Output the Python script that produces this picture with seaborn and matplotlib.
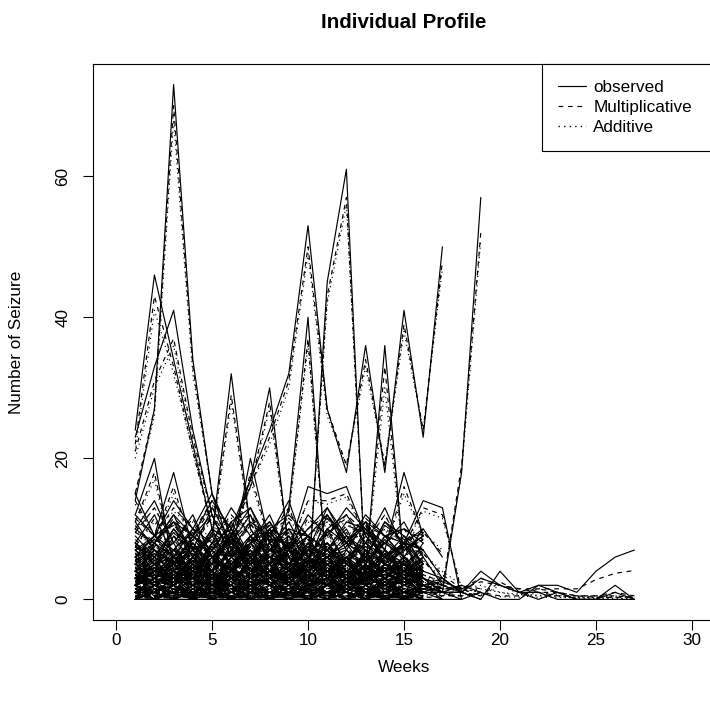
import matplotlib
matplotlib.use("Agg")
import matplotlib.pyplot as plt
import seaborn as sns
import pandas as pd
from matplotlib.lines import Line2D

# ---------------- data ----------------
model_names = ["observed", "Multiplicative", "Additive"]
x_ticks = [0, 5, 10, 15, 20, 25, 30]
y_ticks = [0, 20, 40, 60]

# prominent individual profiles (observed, multiplicative fit, additive fit)
p1_obs = [14, 27, 73, 34, 15, 9, 6, 10, 4, 7, 5, 3, 6, 4, 2, 3]
p1_mul = [15, 27, 70, 33, 15, 9, 6, 9.5, 4.5, 7, 5, 3.5, 5.5, 4, 2.5, 3]
p1_add = [15, 26, 68, 32, 15, 9, 6.5, 9, 5, 6.5, 5, 3.5, 5.5, 4, 2.5, 3]

p2_obs = [24, 46, 34, 22, 10, 8, 12, 5, 3, 8, 6, 4, 2, 5, 3, 2]
p2_mul = [22, 43, 33, 21, 10, 8, 11, 5, 3.5, 7.5, 6, 4, 2.5, 5, 3, 2.5]
p2_add = [21, 41, 32, 21, 10.5, 8, 11, 5.5, 3.5, 7.5, 6, 4, 2.5, 4.5, 3, 2.5]

p3_obs = [23, 33, 41, 24, 12, 6, 9, 4, 7, 3, 10, 5, 3, 6, 2, 4]
p3_mul = [21, 31, 37, 23, 12, 6, 9, 4.5, 7, 3.5, 9.5, 5, 3.5, 5.5, 2.5, 4]
p3_add = [20, 30, 36, 22, 12, 6.5, 8.5, 4.5, 6.5, 3.5, 9, 5, 3.5, 5.5, 2.5, 4]

p4_obs = [5, 8, 11, 9, 14, 10, 17, 24, 32, 53, 27, 18, 36, 18, 41, 23, 50]
p4_mul = [5.5, 8, 11, 9, 13, 10, 16, 23, 31, 50, 27, 19, 34, 19, 39, 24, 48]
p4_add = [5.5, 8.5, 10.5, 9.5, 13, 10, 16, 22, 30, 49, 26, 19, 33, 19, 38, 24, 47]

p5_obs = [2, 4, 3, 6, 5, 9, 4, 6, 8, 1, 45, 61, 2, 5, 3, 4]
p5_mul = [2.5, 4, 3, 5.5, 5, 8.5, 4, 6, 7.5, 2, 43, 57, 3, 5, 3, 4]
p5_add = [2.5, 4, 3.5, 5.5, 5, 8, 4.5, 6, 7.5, 2.5, 42, 56, 3.5, 5, 3.5, 4]

p6_obs = [4, 7, 5, 9, 6, 3, 8, 5, 13, 40, 2, 6, 4, 3, 5, 2]
p6_mul = [4, 6.5, 5, 8.5, 6, 3.5, 7.5, 5, 12.5, 37, 2.5, 6, 4, 3.5, 5, 2.5]
p6_add = [4.5, 6.5, 5, 8.5, 6, 3.5, 7.5, 5, 12, 36, 3, 5.5, 4, 3.5, 4.5, 2.5]

p7_obs = [2, 5, 3, 6, 4, 7, 3, 5, 2, 6, 4, 3, 4, 36, 5, 2]
p7_mul = [2, 5, 3, 5.5, 4, 6.5, 3.5, 5, 2.5, 5.5, 4, 3, 4.5, 33, 5, 2]
p7_add = [2.5, 5, 3.5, 5.5, 4, 6.5, 3.5, 5, 2.5, 5.5, 4, 3.5, 4.5, 30, 5, 2.5]

p8_obs = [1, 3, 2, 5, 2, 4, 6, 3, 2, 5, 3, 4, 2, 3, 6, 2, 1, 18, 57]
p8_mul = [1.5, 3, 2, 4.5, 2.5, 4, 5.5, 3, 2.5, 4.5, 3, 4, 2.5, 3, 5.5, 2.5, 1.5, 19, 52]
p8_add = [1.5, 3, 2.5, 4.5, 2.5, 4, 5.5, 3.5, 2.5, 4.5, 3.5, 4, 2.5, 3.5, 5.5, 2.5, 2, 18, 51]

# long-follow-up profiles (27 weeks) and a few 18-19 week ones
g_obs = [2, 4, 3, 5, 2, 6, 3, 4, 5, 2, 3, 4, 2, 5, 3, 2, 1, 1, 4, 2, 1, 2, 2, 1, 4, 6, 7]
g_mul = [2, 4, 3, 4.5, 2.5, 5.5, 3, 4, 4.5, 2.5, 3, 4, 2.5, 4.5, 3, 2, 1.5, 1.5, 3, 2, 1.5, 1.5, 1.5, 1.5, 2.8, 3.7, 4.1]
g_add = [2.5, 4, 3, 4.5, 2.5, 5.5, 3, 4, 4.5, 2.5, 3, 4, 2.5, 4.5, 3, 2.5, 1.5, 1.5, 2, 1, 0.7, 0.5, 0.5, 0.3, 0.3, 0.3, 0.3]

h_obs = [1, 3, 0, 2, 1, 4, 2, 0, 3, 1, 2, 0, 1, 3, 0, 2, 1, 1, 0, 4, 1, 1, 0, 0, 0, 2, 0]
h_mul = [1, 2.5, 0.5, 2, 1, 3.5, 2, 0.5, 2.5, 1, 2, 0.5, 1, 2.5, 0.5, 1.5, 1, 1, 0.5, 2.5, 1, 1, 0.5, 0.5, 0.5, 1, 0.5]
h_add = [1.5, 2.5, 1, 2, 1.5, 3.5, 2, 1, 2.5, 1.5, 2, 1, 1.5, 2.5, 1, 1.5, 1, 1, 0.5, 2, 0.8, 0.6, 0.4, 0.3, 0.3, 0.5, 0.2]

i_obs = [0, 1, 2, 0, 1, 0, 2, 1, 0, 0, 1, 2, 0, 1, 0, 1, 0, 0, 1, 0, 0, 2, 1, 0, 0, 0, 0]
i_mul = [0.5, 1, 1.5, 0.5, 1, 0.5, 1.5, 1, 0.5, 0.5, 1, 1.5, 0.5, 1, 0.5, 1, 0.5, 0.5, 1, 0.5, 0.5, 1.5, 1, 0.5, 0.3, 0.3, 0.3]
i_add = [0.8, 1, 1.5, 0.8, 1, 0.8, 1.5, 1, 0.8, 0.8, 1, 1.5, 0.8, 1, 0.8, 1, 0.6, 0.5, 0.8, 0.4, 0.3, 1, 0.6, 0.2, 0.1, 0.1, 0.1]

j_obs = [3, 2, 4, 1, 3, 2, 5, 2, 1, 3, 2, 4, 1, 2, 3, 1, 2, 1, 3, 2, 1, 0, 1, 0, 0, 1, 0]
j_mul = [3, 2, 3.5, 1.5, 3, 2, 4.5, 2, 1.5, 3, 2, 3.5, 1.5, 2, 3, 1.5, 2, 1.5, 2.5, 2, 1.5, 1, 1, 0.5, 0.5, 0.5, 0.3]
j_add = [3, 2.5, 3.5, 1.5, 3, 2.5, 4.5, 2, 1.5, 3, 2, 3.5, 1.5, 2, 3, 1.5, 1.5, 1, 1.5, 1, 0.5, 0.3, 0.3, 0.2, 0.2, 0.2, 0.1]

k_obs = [4, 2, 5, 3, 1, 4, 2, 3, 5, 2, 4, 1, 3, 2, 4, 3, 1, 2, 1]
k_mul = [3.5, 2.5, 4.5, 3, 1.5, 3.5, 2, 3, 4.5, 2, 3.5, 1.5, 3, 2, 3.5, 3, 1.5, 2, 1.5]
k_add = [3.5, 2.5, 4.5, 3, 1.5, 3.5, 2.5, 3, 4.5, 2.5, 3.5, 1.5, 3, 2.5, 3.5, 3, 1.5, 1.5, 1]

m_obs = [1, 3, 2, 4, 2, 1, 3, 2, 1, 4, 2, 3, 1, 2, 3, 2, 3, 1]
m_mul = [1.5, 2.5, 2, 3.5, 2, 1.5, 2.5, 2, 1.5, 3.5, 2, 3, 1.5, 2, 2.5, 2, 2.5, 1.5]
m_add = [1.5, 2.5, 2, 3.5, 2, 1.5, 2.5, 2, 1.5, 3.5, 2, 2.5, 1.5, 2, 2.5, 2, 2, 1]

# medium-level profiles
mid_obs = [
    [12, 20, 4, 8, 5, 9, 3, 7, 6, 4, 8, 5, 3, 6, 4, 2],
    [6, 9, 18, 7, 4, 10, 6, 3, 8, 5, 7, 4, 6, 3, 5, 2],
    [8, 5, 10, 6, 9, 32, 10, 6, 4, 7, 5, 3, 6, 4, 8, 3],
    [3, 6, 4, 7, 5, 9, 17, 30, 7, 5, 8, 4, 6, 3, 5, 2],
    [5, 3, 7, 4, 8, 6, 20, 8, 5, 9, 4, 6, 3, 7, 4, 5],
    [4, 7, 5, 9, 6, 8, 5, 10, 7, 16, 15, 16, 9, 6, 8, 4],
    [2, 4, 6, 3, 8, 5, 7, 4, 9, 6, 10, 8, 11, 7, 18, 9],
    [3, 5, 2, 6, 4, 7, 3, 8, 5, 4, 6, 9, 7, 5, 8, 14, 13, 0],
    [10, 14, 8, 12, 6, 9, 13, 7, 10, 5, 12, 8, 6, 11, 9, 7],
    [15, 9, 11, 7, 13, 8, 6, 10, 12, 9, 7, 11, 10, 6, 8, 5],
    [2, 8, 12, 6, 10, 4, 8, 11, 7, 12, 9, 13, 10, 8, 6, 10],
    [8, 12, 6, 10, 15, 7, 11, 9, 14, 6, 10, 12, 8, 13, 7, 9],
]
mid_mul = [
    [11, 18, 5, 8, 5, 8.5, 3.5, 7, 6, 4, 7.5, 5, 3.5, 5.5, 4, 2.5],
    [6, 8.5, 16, 7, 4.5, 9.5, 6, 3.5, 7.5, 5, 6.5, 4, 5.5, 3.5, 5, 2.5],
    [7.5, 5.5, 9.5, 6, 9, 29, 10, 6, 4.5, 6.5, 5, 3.5, 6, 4, 7.5, 3],
    [3, 5.5, 4, 6.5, 5, 8.5, 16, 28, 7, 5, 7.5, 4, 5.5, 3.5, 4.5, 2.5],
    [5, 3.5, 6.5, 4, 7.5, 6, 18, 8, 5, 8.5, 4, 5.5, 3.5, 6.5, 4, 4.5],
    [4, 6.5, 5, 8.5, 6, 7.5, 5, 9.5, 7, 14, 14, 15, 9, 6, 7.5, 4],
    [2, 4, 5.5, 3.5, 7.5, 5, 6.5, 4, 8.5, 6, 9.5, 8, 10.5, 7, 16, 9],
    [3, 4.5, 2.5, 5.5, 4, 6.5, 3.5, 7.5, 5, 4, 6, 8.5, 7, 5, 7.5, 13, 12, 1],
    [9.5, 13, 8, 11.5, 6, 8.5, 12, 7, 9.5, 5.5, 11.5, 8, 6, 10.5, 8.5, 7],
    [14, 9, 10.5, 7, 12, 8, 6, 9.5, 11.5, 9, 7, 10.5, 9.5, 6, 7.5, 5],
    [2.5, 7.5, 11, 6, 9.5, 4.5, 7.5, 10.5, 7, 11.5, 9, 12, 9.5, 8, 6, 9.5],
    [7.5, 11.5, 6, 9.5, 14, 7, 10.5, 9, 13, 6, 9.5, 11.5, 8, 12, 7, 8.5],
]
mid_add = [
    [11, 17, 5.5, 7.5, 5.5, 8, 4, 6.5, 6, 4.5, 7.5, 5, 4, 5.5, 4, 2.5],
    [6, 8.5, 15, 7, 5, 9, 6, 4, 7.5, 5, 6.5, 4.5, 5.5, 3.5, 4.5, 2.5],
    [7.5, 5.5, 9, 6.5, 8.5, 28, 10, 6, 4.5, 6.5, 5, 3.5, 5.5, 4.5, 7, 3.5],
    [3.5, 5.5, 4.5, 6.5, 5, 8, 16, 27, 7, 5, 7.5, 4.5, 5.5, 3.5, 4.5, 2.5],
    [5, 3.5, 6.5, 4.5, 7.5, 6, 17, 8, 5.5, 8, 4.5, 5.5, 3.5, 6.5, 4, 4.5],
    [4, 6.5, 5, 8.5, 6, 7.5, 5.5, 9.5, 7, 14, 13.5, 14.5, 9, 6, 7.5, 4.5],
    [2.5, 4, 5.5, 3.5, 7.5, 5, 6.5, 4.5, 8.5, 6, 9.5, 7.5, 10, 7, 15, 9],
    [3, 4.5, 2.5, 5.5, 4, 6.5, 3.5, 7.5, 5, 4.5, 6, 8.5, 6.5, 5, 7.5, 12.5, 11.5, 1.5],
    [9.5, 13, 8, 11, 6.5, 8.5, 12, 7, 9.5, 5.5, 11, 8, 6.5, 10, 8.5, 7],
    [13.5, 9, 10.5, 7.5, 12, 8, 6.5, 9.5, 11, 9, 7, 10.5, 9.5, 6.5, 7.5, 5.5],
    [3, 7.5, 11, 6, 9.5, 4.5, 7.5, 10, 7, 11, 9, 12, 9.5, 8, 6, 9.5],
    [7.5, 11, 6.5, 9.5, 13.5, 7, 10.5, 9, 13, 6.5, 9.5, 11, 8, 12, 7, 8.5],
]

# low-count profiles, group 1 (16 weeks)
low_obs = [
    [2, 0, 1, 3, 0, 2, 1, 0, 2, 1, 0, 3, 1, 0, 2, 1],
    [5, 3, 4, 2, 6, 3, 5, 2, 4, 3, 2, 5, 3, 4, 2, 3],
    [0, 1, 0, 0, 2, 0, 1, 0, 0, 1, 0, 0, 2, 0, 1, 0],
    [3, 6, 2, 4, 7, 3, 2, 5, 3, 6, 4, 2, 5, 3, 1, 4],
    [1, 2, 4, 1, 3, 2, 0, 3, 1, 2, 4, 1, 0, 2, 3, 1],
    [7, 4, 9, 5, 3, 8, 4, 6, 2, 5, 7, 3, 6, 4, 5, 2],
    [0, 0, 1, 0, 0, 0, 2, 0, 1, 0, 0, 1, 0, 0, 0, 1],
    [4, 2, 3, 5, 1, 4, 3, 2, 6, 1, 3, 4, 2, 5, 3, 2],
    [2, 5, 1, 3, 4, 2, 6, 3, 1, 4, 2, 3, 5, 1, 2, 4],
    [9, 6, 4, 8, 5, 11, 6, 3, 7, 9, 4, 6, 8, 5, 3, 6],
    [1, 0, 2, 1, 1, 0, 3, 1, 0, 2, 1, 1, 0, 3, 1, 0],
    [6, 8, 5, 3, 7, 4, 9, 6, 5, 8, 3, 7, 4, 6, 9, 5],
    [3, 1, 2, 4, 2, 1, 3, 5, 2, 3, 1, 2, 4, 1, 3, 2],
    [0, 2, 0, 1, 0, 3, 0, 1, 2, 0, 1, 0, 1, 2, 0, 0],
    [5, 7, 3, 6, 2, 5, 8, 4, 3, 6, 5, 2, 7, 3, 4, 6],
    [2, 3, 5, 2, 4, 1, 2, 4, 3, 1, 5, 3, 2, 1, 4, 2],
    [8, 5, 7, 10, 6, 4, 9, 7, 11, 6, 8, 5, 10, 7, 4, 8],
    [1, 1, 0, 2, 1, 0, 1, 2, 0, 1, 1, 3, 0, 1, 2, 1],
    [4, 6, 8, 3, 5, 9, 4, 7, 5, 3, 6, 8, 4, 9, 6, 3],
    [0, 1, 3, 0, 1, 2, 0, 0, 1, 3, 0, 2, 1, 0, 1, 2],
    [3, 2, 1, 4, 3, 5, 2, 1, 3, 4, 2, 1, 3, 2, 5, 1],
    [11, 7, 5, 9, 12, 6, 8, 10, 5, 7, 13, 9, 6, 11, 8, 7],
    [2, 4, 3, 1, 2, 3, 5, 2, 4, 2, 3, 6, 2, 3, 1, 4],
    [6, 3, 5, 7, 4, 2, 6, 8, 3, 5, 6, 4, 3, 7, 5, 4],
    [1, 3, 2, 0, 4, 1, 2, 3, 1, 0, 2, 4, 1, 3, 0, 2],
    [0, 0, 0, 1, 0, 0, 0, 0, 1, 0, 0, 0, 0, 1, 0, 0],
    [4, 1, 6, 2, 3, 5, 1, 4, 2, 6, 3, 1, 4, 2, 3, 5],
    [7, 9, 6, 4, 8, 10, 5, 7, 9, 4, 6, 8, 11, 5, 7, 9],
    [2, 1, 3, 2, 0, 1, 4, 2, 1, 3, 2, 0, 1, 2, 3, 1],
    [5, 4, 2, 6, 3, 4, 7, 3, 5, 2, 4, 6, 3, 5, 4, 2],
]
low_mul = [
    [2, 0.5, 1, 2.5, 0.5, 2, 1, 0.5, 2, 1, 0.5, 2.5, 1, 0.5, 1.5, 1],
    [4.5, 3, 4, 2.5, 5.5, 3, 4.5, 2.5, 4, 3, 2.5, 4.5, 3, 4, 2.5, 3],
    [0.5, 1, 0.5, 0.5, 1.5, 0.5, 1, 0.5, 0.5, 1, 0.5, 0.5, 1.5, 0.5, 1, 0.5],
    [3, 5.5, 2.5, 4, 6.5, 3, 2.5, 4.5, 3, 5.5, 4, 2.5, 4.5, 3, 1.5, 3.5],
    [1, 2, 3.5, 1.5, 3, 2, 0.5, 2.5, 1, 2, 3.5, 1, 0.5, 2, 2.5, 1],
    [6.5, 4, 8.5, 5, 3.5, 7.5, 4, 5.5, 2.5, 5, 6.5, 3.5, 5.5, 4, 4.5, 2.5],
    [0.3, 0.3, 0.8, 0.3, 0.3, 0.3, 1.5, 0.3, 0.8, 0.3, 0.3, 0.8, 0.3, 0.3, 0.3, 0.8],
    [3.5, 2.5, 3, 4.5, 1.5, 4, 3, 2.5, 5.5, 1.5, 3, 3.5, 2.5, 4.5, 3, 2],
    [2, 4.5, 1.5, 3, 3.5, 2, 5.5, 3, 1.5, 3.5, 2, 3, 4.5, 1.5, 2, 3.5],
    [8.5, 6, 4.5, 7.5, 5, 10, 6, 3.5, 6.5, 8.5, 4.5, 6, 7.5, 5, 3.5, 5.5],
    [1, 0.5, 1.5, 1, 1, 0.5, 2.5, 1, 0.5, 1.5, 1, 1, 0.5, 2.5, 1, 0.5],
    [5.5, 7.5, 5, 3.5, 6.5, 4, 8.5, 6, 5, 7.5, 3.5, 6.5, 4, 6, 8.5, 5],
    [3, 1.5, 2, 3.5, 2, 1.5, 3, 4.5, 2, 3, 1.5, 2, 3.5, 1.5, 3, 2],
    [0.5, 1.5, 0.5, 1, 0.5, 2.5, 0.5, 1, 1.5, 0.5, 1, 0.5, 1, 1.5, 0.5, 0.5],
    [5, 6.5, 3.5, 5.5, 2.5, 5, 7.5, 4, 3.5, 5.5, 5, 2.5, 6.5, 3.5, 4, 5.5],
    [2, 3, 4.5, 2, 3.5, 1.5, 2, 3.5, 3, 1.5, 4.5, 3, 2, 1.5, 3.5, 2],
    [7.5, 5, 7, 9.5, 6, 4.5, 8.5, 7, 10, 6, 7.5, 5, 9.5, 7, 4.5, 7.5],
    [1, 1, 0.5, 1.5, 1, 0.5, 1, 1.5, 0.5, 1, 1, 2.5, 0.5, 1, 1.5, 1],
    [4, 5.5, 7.5, 3.5, 5, 8.5, 4, 6.5, 5, 3.5, 5.5, 7.5, 4, 8.5, 5.5, 3.5],
    [0.5, 1, 2.5, 0.5, 1, 1.5, 0.5, 0.5, 1, 2.5, 0.5, 1.5, 1, 0.5, 1, 1.5],
    [3, 2, 1.5, 3.5, 3, 4.5, 2, 1.5, 3, 3.5, 2, 1.5, 3, 2, 4.5, 1.5],
    [10.5, 7, 5.5, 8.5, 11.5, 6, 8, 9.5, 5.5, 7, 12, 8.5, 6, 10.5, 8, 7],
    [2, 3.5, 3, 1.5, 2, 3, 4.5, 2, 3.5, 2, 3, 5.5, 2, 3, 1.5, 3.5],
    [5.5, 3.5, 5, 6.5, 4, 2.5, 5.5, 7.5, 3.5, 5, 5.5, 4, 3.5, 6.5, 5, 4],
    [1, 2.5, 2, 0.5, 3.5, 1, 2, 2.5, 1, 0.5, 2, 3.5, 1, 2.5, 0.5, 2],
    [0.2, 0.2, 0.2, 0.7, 0.2, 0.2, 0.2, 0.2, 0.7, 0.2, 0.2, 0.2, 0.2, 0.7, 0.2, 0.2],
    [3.5, 1.5, 5.5, 2, 3, 4.5, 1.5, 3.5, 2, 5.5, 3, 1.5, 3.5, 2, 3, 4.5],
    [7, 8.5, 6, 4.5, 7.5, 9.5, 5, 7, 8.5, 4.5, 6, 7.5, 10.5, 5, 7, 8.5],
    [2, 1, 2.5, 2, 0.5, 1, 3.5, 2, 1, 2.5, 2, 0.5, 1, 2, 2.5, 1],
    [5, 4, 2.5, 5.5, 3, 4, 6.5, 3, 5, 2.5, 4, 5.5, 3, 5, 4, 2.5],
]
low_add = [
    [2, 1, 1, 2.5, 1, 2, 1, 1, 1.5, 1, 1, 2.5, 1, 1, 1.5, 1],
    [4.5, 3.5, 4, 3, 5, 3.5, 4.5, 3, 4, 3, 3, 4.5, 3, 3.5, 3, 3],
    [1, 1, 1, 1, 1.5, 1, 1, 1, 1, 1, 1, 1, 1.5, 1, 1, 1],
    [3.5, 5, 3, 4, 6, 3.5, 3, 4.5, 3.5, 5, 4, 3, 4.5, 3, 2, 3.5],
    [1.5, 2, 3.5, 1.5, 2.5, 2, 1, 2.5, 1.5, 2, 3.5, 1.5, 1, 2, 2.5, 1.5],
    [6, 4.5, 8, 5, 4, 7, 4.5, 5.5, 3, 5, 6.5, 4, 5.5, 4, 4.5, 3],
    [0.5, 0.5, 1, 0.5, 0.5, 0.5, 1.5, 0.5, 1, 0.5, 0.5, 1, 0.5, 0.5, 0.5, 1],
    [3.5, 2.5, 3, 4.5, 2, 3.5, 3, 2.5, 5, 2, 3, 3.5, 2.5, 4, 3, 2.5],
    [2.5, 4.5, 2, 3, 3.5, 2.5, 5, 3, 2, 3.5, 2.5, 3, 4.5, 2, 2.5, 3.5],
    [8, 6, 5, 7.5, 5.5, 9.5, 6, 4, 6.5, 8, 5, 6, 7.5, 5, 4, 5.5],
    [1, 1, 1.5, 1, 1, 1, 2.5, 1, 1, 1.5, 1, 1, 1, 2.5, 1, 1],
    [5.5, 7, 5, 4, 6.5, 4.5, 8, 6, 5, 7, 4, 6.5, 4.5, 6, 8, 5],
    [2.5, 1.5, 2, 3.5, 2, 1.5, 3, 4, 2.5, 3, 1.5, 2, 3.5, 1.5, 2.5, 2],
    [1, 1.5, 1, 1, 1, 2.5, 1, 1, 1.5, 1, 1, 1, 1, 1.5, 1, 1],
    [5, 6.5, 3.5, 5.5, 3, 5, 7, 4, 3.5, 5.5, 4.5, 3, 6.5, 3.5, 4, 5.5],
    [2.5, 3, 4.5, 2.5, 3.5, 1.5, 2.5, 3.5, 3, 1.5, 4.5, 3, 2.5, 1.5, 3.5, 2],
    [7.5, 5.5, 7, 9, 6, 5, 8.5, 7, 10, 6, 7.5, 5.5, 9, 7, 5, 7.5],
    [1, 1, 1, 1.5, 1, 1, 1, 1.5, 1, 1, 1, 2.5, 1, 1, 1.5, 1],
    [4, 5.5, 7, 3.5, 5, 8, 4.5, 6.5, 5, 3.5, 5.5, 7, 4.5, 8, 5.5, 3.5],
    [1, 1, 2.5, 1, 1, 1.5, 1, 1, 1, 2.5, 1, 1.5, 1, 1, 1, 1.5],
    [3, 2, 1.5, 3.5, 3, 4.5, 2.5, 1.5, 3, 3.5, 2, 1.5, 3, 2.5, 4, 1.5],
    [10, 7, 6, 8.5, 11, 6.5, 8, 9.5, 6, 7, 12, 8.5, 6.5, 10, 8, 7],
    [2.5, 3.5, 3, 1.5, 2, 3, 4.5, 2.5, 3.5, 2.5, 3, 5, 2.5, 3, 1.5, 3.5],
    [5.5, 3.5, 5, 6.5, 4, 3, 5.5, 7, 3.5, 5, 5.5, 4, 3.5, 6.5, 5, 4],
    [1.5, 2.5, 2, 1, 3.5, 1.5, 2, 2.5, 1.5, 1, 2, 3.5, 1.5, 2.5, 1, 2],
    [0.4, 0.4, 0.4, 0.8, 0.4, 0.4, 0.4, 0.4, 0.8, 0.4, 0.4, 0.4, 0.4, 0.8, 0.4, 0.4],
    [3.5, 1.5, 5, 2.5, 3, 4.5, 1.5, 3.5, 2.5, 5, 3, 1.5, 3.5, 2.5, 3, 4.5],
    [7, 8.5, 6, 4.5, 7.5, 9, 5.5, 7, 8.5, 5, 6, 7.5, 10, 5.5, 7, 8.5],
    [2, 1.5, 2.5, 2, 1, 1.5, 3.5, 2, 1.5, 2.5, 2, 1, 1.5, 2, 2.5, 1.5],
    [4.5, 4, 2.5, 5.5, 3.5, 4, 6.5, 3.5, 4.5, 2.5, 4, 5.5, 3.5, 4.5, 4, 2.5],
]

# low-count profiles, group 2 (16-19 weeks)
low2_obs = [
    [0, 0, 0, 0, 1, 0, 0, 0, 0, 0, 1, 0, 0, 0, 0, 0, 0],
    [3, 5, 4, 6, 2, 4, 3, 7, 5, 3, 4, 6, 2, 5, 4, 3, 2],
    [1, 0, 1, 2, 0, 1, 0, 1, 0, 2, 1, 0, 1, 0, 1, 0],
    [6, 9, 7, 5, 10, 8, 6, 9, 4, 7, 8, 5, 9, 6, 8, 7, 3, 1],
    [2, 1, 0, 2, 3, 1, 2, 0, 1, 2, 3, 1, 0, 2, 1, 2],
    [4, 3, 6, 4, 2, 5, 7, 3, 4, 6, 2, 5, 3, 4, 6, 3, 1],
    [0, 2, 1, 0, 0, 1, 0, 2, 0, 0, 1, 0, 0, 1, 0, 0],
    [8, 6, 10, 7, 9, 5, 8, 12, 6, 9, 7, 10, 5, 8, 11, 6],
    [1, 2, 1, 3, 2, 2, 1, 0, 3, 1, 2, 2, 1, 3, 1, 2, 0],
    [5, 2, 4, 3, 6, 4, 2, 5, 3, 4, 6, 3, 5, 2, 4, 3],
    [0, 1, 0, 1, 0, 0, 1, 0, 1, 0, 0, 0, 1, 0, 0, 1],
    [10, 8, 12, 9, 7, 11, 13, 8, 10, 9, 12, 7, 11, 9, 8, 10, 6],
    [3, 4, 2, 5, 3, 4, 6, 2, 3, 5, 4, 3, 2, 4, 5, 3],
    [2, 0, 1, 1, 3, 0, 2, 1, 1, 0, 2, 3, 1, 1, 0, 2],
    [7, 5, 6, 8, 4, 7, 5, 9, 6, 4, 7, 5, 8, 6, 5, 7],
    [1, 1, 2, 0, 1, 3, 1, 1, 0, 2, 1, 1, 3, 0, 1, 1, 1, 0],
    [4, 7, 5, 3, 6, 4, 8, 5, 7, 3, 5, 6, 4, 7, 3, 5],
    [0, 0, 1, 0, 2, 0, 0, 1, 0, 0, 1, 0, 2, 0, 0, 0],
    [2, 3, 2, 4, 1, 3, 2, 3, 5, 2, 3, 1, 4, 2, 3, 2, 1],
    [12, 9, 14, 10, 8, 13, 9, 11, 7, 10, 13, 8, 12, 9, 10, 8],
    [3, 2, 4, 2, 5, 3, 1, 4, 2, 3, 5, 2, 3, 4, 2, 3],
    [6, 4, 5, 7, 3, 6, 4, 5, 8, 4, 6, 3, 7, 5, 4, 6, 2],
    [1, 0, 2, 1, 0, 1, 2, 0, 1, 1, 0, 2, 1, 0, 1, 0],
    [5, 8, 6, 4, 7, 9, 5, 6, 4, 8, 6, 7, 5, 9, 6, 4],
    [2, 4, 3, 3, 2, 4, 1, 3, 4, 2, 3, 4, 2, 3, 2, 4, 3, 1, 0],
]
low2_mul = [
    [0.3, 0.3, 0.3, 0.3, 0.8, 0.3, 0.3, 0.3, 0.3, 0.3, 0.8, 0.3, 0.3, 0.3, 0.3, 0.3, 0.3],
    [3, 4.5, 4, 5.5, 2.5, 4, 3, 6.5, 5, 3, 4, 5.5, 2.5, 4.5, 4, 3, 2],
    [1, 0.5, 1, 1.5, 0.5, 1, 0.5, 1, 0.5, 1.5, 1, 0.5, 1, 0.5, 1, 0.5],
    [6, 8.5, 7, 5, 9.5, 7.5, 6, 8.5, 4.5, 7, 7.5, 5, 8.5, 6, 7.5, 6.5, 3.5, 1.5],
    [2, 1, 0.5, 2, 2.5, 1, 2, 0.5, 1, 2, 2.5, 1, 0.5, 2, 1, 2],
    [4, 3, 5.5, 4, 2.5, 5, 6.5, 3, 4, 5.5, 2.5, 5, 3, 4, 5.5, 3, 1.5],
    [0.5, 1.5, 1, 0.5, 0.5, 1, 0.5, 1.5, 0.5, 0.5, 1, 0.5, 0.5, 1, 0.5, 0.5],
    [7.5, 6, 9.5, 7, 8.5, 5, 8, 11, 6, 8.5, 7, 9.5, 5.5, 8, 10, 6],
    [1, 2, 1, 2.5, 2, 2, 1, 0.5, 2.5, 1, 2, 2, 1, 2.5, 1, 1.5, 0.5],
    [4.5, 2.5, 4, 3, 5.5, 4, 2.5, 4.5, 3, 4, 5.5, 3, 4.5, 2.5, 4, 3],
    [0.3, 0.8, 0.3, 0.8, 0.3, 0.3, 0.8, 0.3, 0.8, 0.3, 0.3, 0.3, 0.8, 0.3, 0.3, 0.8],
    [9.5, 8, 11.5, 9, 7, 10.5, 12, 8, 9.5, 9, 11.5, 7.5, 10.5, 9, 8, 9.5, 6.5],
    [3, 3.5, 2.5, 4.5, 3, 4, 5.5, 2.5, 3, 4.5, 4, 3, 2.5, 4, 4.5, 3],
    [1.5, 0.5, 1, 1, 2.5, 0.5, 1.5, 1, 1, 0.5, 2, 2.5, 1, 1, 0.5, 1.5],
    [6.5, 5, 6, 7.5, 4.5, 6.5, 5, 8.5, 6, 4.5, 6.5, 5, 7.5, 6, 5, 6.5],
    [1, 1, 1.5, 0.5, 1, 2.5, 1, 1, 0.5, 1.5, 1, 1, 2.5, 0.5, 1, 1, 1, 0.5],
    [4, 6.5, 5, 3.5, 5.5, 4, 7.5, 5, 6.5, 3.5, 5, 5.5, 4, 6.5, 3.5, 5],
    [0.3, 0.3, 0.8, 0.3, 1.5, 0.3, 0.3, 0.8, 0.3, 0.3, 0.8, 0.3, 1.5, 0.3, 0.3, 0.3],
    [2, 3, 2, 3.5, 1.5, 3, 2, 3, 4.5, 2, 3, 1.5, 3.5, 2, 3, 2, 1.5],
    [11.5, 9, 13, 10, 8.5, 12, 9, 10.5, 7.5, 10, 12, 8.5, 11.5, 9, 10, 8.5],
    [3, 2.5, 3.5, 2.5, 4.5, 3, 1.5, 3.5, 2.5, 3, 4.5, 2.5, 3, 3.5, 2.5, 3],
    [5.5, 4, 5, 6.5, 3.5, 5.5, 4, 5, 7.5, 4, 5.5, 3.5, 6.5, 5, 4, 5.5, 2.5],
    [1, 0.5, 1.5, 1, 0.5, 1, 1.5, 0.5, 1, 1, 0.5, 1.5, 1, 0.5, 1, 0.5],
    [5, 7.5, 6, 4.5, 6.5, 8.5, 5, 6, 4.5, 7.5, 6, 6.5, 5, 8.5, 6, 4.5],
    [2, 3.5, 3, 3, 2, 3.5, 1.5, 3, 3.5, 2, 3, 3.5, 2, 3, 2, 3.5, 2.5, 1.5, 0.5],
]
low2_add = [
    [0.5, 0.5, 0.5, 0.5, 1, 0.5, 0.5, 0.5, 0.5, 0.5, 1, 0.5, 0.5, 0.5, 0.5, 0.5, 0.4],
    [3.5, 4.5, 4, 5.5, 3, 4, 3.5, 6, 5, 3.5, 4, 5.5, 3, 4.5, 4, 3, 2.5],
    [1, 1, 1, 1.5, 1, 1, 1, 1, 1, 1.5, 1, 1, 1, 1, 1, 1],
    [6.5, 8.5, 7, 5.5, 9, 7.5, 6.5, 8.5, 5, 7, 7.5, 5.5, 8.5, 6.5, 7.5, 6.5, 4, 2],
    [2, 1.5, 1, 2, 2.5, 1.5, 2, 1, 1.5, 2, 2.5, 1.5, 1, 2, 1.5, 2],
    [4, 3.5, 5.5, 4, 3, 5, 6.5, 3.5, 4, 5.5, 3, 5, 3.5, 4, 5.5, 3.5, 2],
    [1, 1.5, 1, 1, 1, 1, 1, 1.5, 1, 1, 1, 1, 1, 1, 1, 1],
    [7.5, 6.5, 9, 7, 8.5, 5.5, 8, 10.5, 6.5, 8.5, 7, 9, 6, 8, 10, 6.5],
    [1.5, 2, 1.5, 2.5, 2, 2, 1.5, 1, 2.5, 1.5, 2, 2, 1.5, 2.5, 1.5, 1.5, 1],
    [4.5, 3, 4, 3.5, 5.5, 4, 3, 4.5, 3.5, 4, 5.5, 3.5, 4.5, 3, 4, 3.5],
    [0.5, 1, 0.5, 1, 0.5, 0.5, 1, 0.5, 1, 0.5, 0.5, 0.5, 1, 0.5, 0.5, 1],
    [9.5, 8.5, 11, 9, 7.5, 10.5, 12, 8.5, 9.5, 9, 11, 8, 10.5, 9, 8.5, 9.5, 7],
    [3, 3.5, 2.5, 4.5, 3, 4, 5.5, 3, 3, 4.5, 4, 3, 2.5, 4, 4.5, 3],
    [1.5, 1, 1, 1, 2.5, 1, 1.5, 1, 1, 1, 2, 2.5, 1, 1, 1, 1.5],
    [6.5, 5.5, 6, 7.5, 5, 6.5, 5.5, 8, 6, 5, 6.5, 5.5, 7.5, 6, 5.5, 6.5],
    [1, 1, 1.5, 1, 1, 2.5, 1, 1, 1, 1.5, 1, 1, 2.5, 1, 1, 1, 0.8, 0.5],
    [4.5, 6.5, 5, 4, 5.5, 4.5, 7, 5, 6.5, 4, 5, 5.5, 4.5, 6.5, 4, 5],
    [0.5, 0.5, 1, 0.5, 1.5, 0.5, 0.5, 1, 0.5, 0.5, 1, 0.5, 1.5, 0.5, 0.5, 0.5],
    [2.5, 3, 2.5, 3.5, 2, 3, 2.5, 3, 4.5, 2.5, 3, 2, 3.5, 2.5, 3, 2.5, 1.5],
    [11, 9.5, 12.5, 10, 9, 11.5, 9.5, 10.5, 8, 10, 12, 9, 11, 9.5, 10, 9],
    [3, 2.5, 3.5, 2.5, 4.5, 3, 2, 3.5, 2.5, 3, 4.5, 2.5, 3, 3.5, 2.5, 3],
    [5.5, 4.5, 5, 6.5, 4, 5.5, 4.5, 5, 7, 4.5, 5.5, 4, 6.5, 5, 4.5, 5.5, 3],
    [1, 1, 1.5, 1, 1, 1, 1.5, 1, 1, 1, 1, 1.5, 1, 1, 1, 1],
    [5.5, 7.5, 6, 5, 6.5, 8, 5.5, 6, 5, 7.5, 6, 6.5, 5.5, 8, 6, 5],
    [2.5, 3.5, 3, 3, 2.5, 3.5, 2, 3, 3.5, 2.5, 3, 3.5, 2.5, 3, 2.5, 3.5, 2.5, 1.5, 1],
]

# ---------------- assemble long table ----------------
named = [
    ("p1", p1_obs, p1_mul, p1_add), ("p2", p2_obs, p2_mul, p2_add),
    ("p3", p3_obs, p3_mul, p3_add), ("p4", p4_obs, p4_mul, p4_add),
    ("p5", p5_obs, p5_mul, p5_add), ("p6", p6_obs, p6_mul, p6_add),
    ("p7", p7_obs, p7_mul, p7_add), ("p8", p8_obs, p8_mul, p8_add),
    ("g", g_obs, g_mul, g_add), ("h", h_obs, h_mul, h_add),
    ("i", i_obs, i_mul, i_add), ("j", j_obs, j_mul, j_add),
    ("k", k_obs, k_mul, k_add), ("m", m_obs, m_mul, m_add),
]
for tag, go, gm, ga in (("mid", mid_obs, mid_mul, mid_add),
                        ("low", low_obs, low_mul, low_add),
                        ("lowb", low2_obs, low2_mul, low2_add)):
    for n, (o, mu, a) in enumerate(zip(go, gm, ga)):
        named.append((f"{tag}{n}", o, mu, a))

rows = []
for subj, o, mu, a in named:
    for model, vals in zip(model_names, (o, mu, a)):
        for wk, v in enumerate(vals, start=1):
            rows.append({"subject": subj, "model": model, "week": wk, "count": v})
df = pd.DataFrame(rows)

# ---------------- plot ----------------
sns.set_style("white")
plt.rcParams["font.family"] = ["Liberation Sans", "DejaVu Sans"]
plt.rcParams["text.color"] = "black"
plt.rcParams["axes.labelcolor"] = "black"
plt.rcParams["xtick.color"] = "black"
plt.rcParams["ytick.color"] = "black"

W, H = 710, 704
fig = plt.figure(figsize=(W / 100, H / 100), dpi=100)
ax = fig.add_axes([93 / W, (H - 620) / H, (715 - 93) / W, (620 - 64) / H])

dash_map = {"observed": "", "Multiplicative": (4, 4), "Additive": (1, 3)}
sns.lineplot(data=df, x="week", y="count", units="subject", estimator=None,
             style="model", style_order=model_names, dashes=dash_map,
             color="black", linewidth=0.85, legend=False, sort=False, ax=ax)

ax.set_xlim(-1.2, 31.2)
ax.set_ylim(-2.92, 75.92)
ax.set_xticks(x_ticks)
ax.set_yticks(y_ticks)
ax.set_xticklabels([str(t) for t in x_ticks])
ax.set_yticklabels([str(t) for t in y_ticks], rotation=90, va="center")
ax.set_xlabel("")
ax.set_ylabel("")
ax.tick_params(axis="both", direction="out", length=7.2, width=0.8,
               colors="black", labelsize=12.3, left=True, bottom=True)
ax.tick_params(axis="x", pad=2.5)
ax.tick_params(axis="y", pad=9)
for s in ax.spines.values():
    s.set_visible(True)
    s.set_color("black")
    s.set_linewidth(0.8)

handles = [Line2D([], [], color="black", lw=0.85, linestyle="-"),
           Line2D([], [], color="black", lw=0.85, linestyle=(0, (4, 4))),
           Line2D([], [], color="black", lw=1.0, linestyle=(0, (1, 3)))]
leg = fig.legend(handles, model_names, loc="upper left", mode="expand",
                 bbox_to_anchor=(542 / W, 1 - 152 / H, (725 - 542) / W, 88 / H),
                 borderaxespad=0, fancybox=False, framealpha=1,
                 edgecolor="black", fontsize=12.3, handlelength=1.6,
                 handletextpad=0.45, borderpad=0.95, labelspacing=0.28)
leg.get_frame().set_linewidth(0.8)
leg.set_zorder(10)

fig.text(404 / W, 1 - 23 / H, "Individual Profile", ha="center", va="center",
         fontsize=14.8, fontweight="bold")
fig.text(404 / W, 1 - 668 / H, "Weeks", ha="center", va="center", fontsize=12.3)
fig.text(17 / W, 1 - 342 / H, "Number of Seizure", ha="center", va="center",
         rotation=90, fontsize=12.3)

fig.savefig("out.png", dpi=100)
